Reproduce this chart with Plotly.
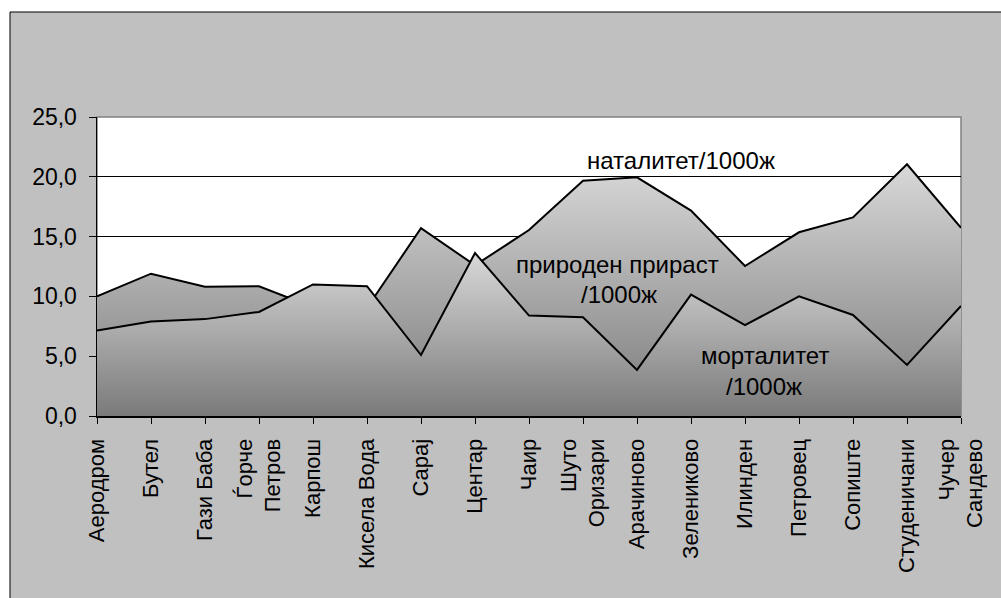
import plotly.graph_objects as go

categories = ["Аеродром", "Бутел", "Гази Баба", "Ѓорче<br>Петров", "Карпош", "Кисела Вода",
              "Сарај", "Центар", "Чаир", "Шуто<br>Оризари", "Арачиново", "Зелениково",
              "Илинден", "Петровец", "Сопиште", "Студеничани", "Чучер<br>Сандево"]
natality = [10.0, 11.9, 10.8, 10.85, 9.1, 9.05, 15.7, 12.6, 15.55, 19.67, 19.96, 17.17,
            12.54, 15.36, 16.61, 21.05, 15.74]
mortality = [7.15, 7.9, 8.1, 8.7, 11.0, 10.85, 5.1, 13.63, 8.4, 8.25, 3.85, 10.15,
             7.6, 10.0, 8.45, 4.27, 9.2]
y_ticks = [0, 5, 10, 15, 20, 25]

FONT = "Liberation Sans, Arial, sans-serif"
idx = list(range(len(categories)))

fig = go.Figure()
for vals in (natality, mortality):
    fig.add_trace(go.Scatter(
        x=idx, y=vals, mode="lines", fill="tozeroy",
        line=dict(color="black", width=2),
        fillgradient=dict(type="vertical", start=0, stop=max(vals),
                          colorscale=[[0, "#7a7a7a"], [1, "#d8d8d8"]]),
        hoverinfo="skip", showlegend=False))

# plot area geometry (pixels)
L, R, T, B = 97, 961, 117, 416
W, H = 1001, 598
pw, ph = R - L, B - T
def px(x): return (x - L) / pw
def py(y): return (B - y) / ph

shapes = [
    dict(type="rect", xref="paper", yref="paper", x0=px(10), x1=px(W + 20),
         y0=py(H + 20), y1=py(12), fillcolor="#c0c0c0",
         line=dict(color="black", width=1), layer="below"),
    dict(type="rect", xref="paper", yref="paper", x0=0, x1=1, y0=0, y1=1,
         fillcolor="white", line=dict(color="#808080", width=1.5), layer="below"),
]

ann_font = dict(family=FONT, size=24, color="black")
annotations = [
    dict(text="наталитет/1000ж", x=10.82, y=21.4),
    dict(text="природен прираст", x=9.64, y=12.63),
    dict(text="/1000ж", x=9.66, y=10.12),
    dict(text="морталитет", x=12.37, y=5.02),
    dict(text="/1000ж", x=12.36, y=2.45),
]
annotations = [dict(a, xref="x", yref="y", showarrow=False, font=ann_font,
                    xanchor="center", yanchor="middle") for a in annotations]

fig.update_layout(
    width=W, height=H,
    margin=dict(l=L, r=W - R, t=T, b=H - B, pad=0),
    paper_bgcolor="white", plot_bgcolor="rgba(0,0,0,0)",
    separators=", ",
    font=dict(family=FONT, size=20, color="black"),
    shapes=shapes, annotations=annotations,
    xaxis=dict(range=[0, len(categories) - 1], tickvals=idx, ticktext=categories,
               tickangle=-90, showgrid=False, zeroline=False,
               showline=True, linecolor="black", linewidth=2,
               ticks="outside", ticklen=6, tickcolor="black",
               ticklabelstandoff=6,
               tickfont=dict(family=FONT, size=22, color="black")),
    yaxis=dict(range=[0, 25], tickvals=y_ticks, tickformat=".1f",
               showgrid=True, gridcolor="black", gridwidth=1, zeroline=False,
               showline=True, linecolor="black", linewidth=1.5,
               ticks="outside", ticklen=7, tickcolor="black",
               ticklabelstandoff=7,
               tickfont=dict(family=FONT, size=23, color="black")),
)

fig.write_html("out.html", config={"displayModeBar": False, "staticPlot": True},
               post_script="document.body.style.margin='0';document.body.style.overflow='hidden';")
